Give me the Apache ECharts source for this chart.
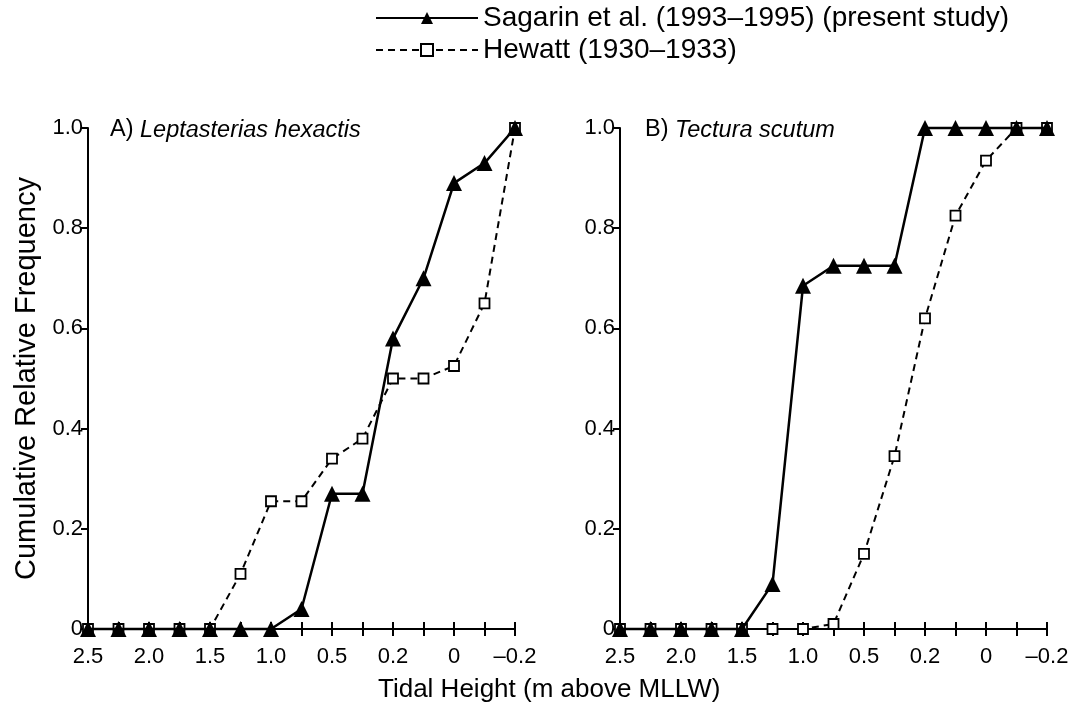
<!DOCTYPE html>
<html lang="en">
<head>
  <meta charset="UTF-8">
  <title>Cumulative Relative Frequency vs Tidal Height</title>
  <script src="https://cdn.jsdelivr.net/npm/echarts@6.0.0/dist/echarts.min.js"></script>
  <style>
    html, body { margin: 0; padding: 0; background: #fff; }
    #chart { width: 1073px; height: 711px; }
  </style>
</head>
<body>
  <div id="chart"></div>
  <script>
    // tidal height categories (every second one is labelled)
    var tideLabels = ['2.5', '2.25', '2.0', '1.75', '1.5', '1.25', '1.0', '0.75', '0.5', '0.35', '0.2', '0.1', '0', '–0.1', '–0.2'];

    // A) Leptasterias hexactis
    var leptSagarin = [0, 0, 0, 0, 0, 0, 0, 0.04, 0.27, 0.27, 0.58, 0.70, 0.89, 0.93, 1.0];
    var leptHewatt  = [0, 0, 0, 0, 0, 0.11, 0.255, 0.255, 0.34, 0.38, 0.50, 0.50, 0.525, 0.65, 1.0];

    // B) Tectura scutum
    var tectSagarin = [0, 0, 0, 0, 0, 0.09, 0.685, 0.725, 0.725, 0.725, 1.0, 1.0, 1.0, 1.0, 1.0];
    var tectHewatt  = [0, 0, 0, 0, 0, 0, 0, 0.01, 0.15, 0.345, 0.62, 0.825, 0.935, 1.0, 1.0];

    var SAGARIN = 'Sagarin et al. (1993–1995) (present study)';
    var HEWATT = 'Hewatt (1930–1933)';
    var FONT = 'Liberation Sans';

    var chart = echarts.init(document.getElementById('chart'));

    function mainX(grid) {
      return {
        type: 'category', gridIndex: grid, position: 'bottom', boundaryGap: false, data: tideLabels,
        axisLine: { lineStyle: { color: '#000', width: 2 } },
        axisTick: { show: true, interval: 0, length: 7, lineStyle: { color: '#000', width: 2 } },
        axisLabel: { interval: 1, margin: 17, fontSize: 22, color: '#000', fontFamily: FONT },
        splitLine: { show: false }
      };
    }
    // second axis on the same spot, only to make the ticks cross the line
    function innerX(grid) {
      return {
        type: 'category', gridIndex: grid, position: 'bottom', boundaryGap: false, data: tideLabels,
        axisLine: { show: false },
        axisTick: { show: true, inside: true, interval: 0, length: 7, lineStyle: { color: '#000', width: 2 } },
        axisLabel: { show: false },
        splitLine: { show: false }
      };
    }
    function valY(grid, name) {
      return {
        type: 'value', gridIndex: grid, min: 0, max: 1, interval: 0.2,
        name: name, nameLocation: 'middle', nameGap: 47,
        nameTextStyle: { fontSize: 29, color: '#000', fontFamily: FONT },
        axisLine: { show: true, lineStyle: { color: '#000', width: 2 } },
        axisTick: { show: true, length: 7, lineStyle: { color: '#000', width: 2 } },
        axisLabel: {
          margin: 5, fontSize: 22, color: '#000', fontFamily: FONT,
          formatter: function (v) { return v === 0 ? '0' : v.toFixed(1); }
        },
        splitLine: { show: false }
      };
    }
    function sagarin(xi, yi, data) {
      return {
        name: SAGARIN, type: 'line', xAxisIndex: xi, yAxisIndex: yi, data: data,
        clip: false, z: 3,
        symbol: 'triangle', symbolSize: 16,
        lineStyle: { color: '#000', width: 2.5 },
        itemStyle: { color: '#000' }
      };
    }
    function hewatt(xi, yi, data) {
      return {
        name: HEWATT, type: 'line', xAxisIndex: xi, yAxisIndex: yi, data: data,
        clip: false, z: 2,
        symbol: 'rect', symbolSize: 10, showAllSymbol: true,
        lineStyle: { color: '#000', width: 2, type: [7, 5] },
        itemStyle: { color: '#fff', borderColor: '#000', borderWidth: 1.8 }
      };
    }

    chart.setOption({
      animation: false,
      backgroundColor: '#fff',
      textStyle: { fontFamily: FONT },
      title: [
        {
          left: 110, top: 118, padding: 0,
          text: 'A) {i|Leptasterias hexactis}',
          textStyle: { fontSize: 23.5, fontWeight: 'normal', color: '#000', rich: { i: { fontSize: 23.5, fontStyle: 'italic', color: '#000' } } }
        },
        {
          left: 645, top: 118, padding: 0,
          text: 'B) {i|Tectura scutum}',
          textStyle: { fontSize: 23.5, fontWeight: 'normal', color: '#000', rich: { i: { fontSize: 23.5, fontStyle: 'italic', color: '#000' } } }
        },
        {
          left: 378, top: 677, padding: 0,
          text: 'Tidal Height (m above MLLW)',
          textStyle: { fontSize: 26, fontWeight: 'normal', color: '#000' }
        }
      ],
      legend: {
        orient: 'vertical', left: 375, top: 4, padding: 0,
        itemWidth: 102, itemHeight: 15, itemGap: 4,
        data: [SAGARIN, HEWATT],
        textStyle: { fontSize: 28, color: '#000' }
      },
      grid: [
        { left: 88, top: 128, width: 427, height: 501 },
        { left: 620, top: 128, width: 427, height: 501 }
      ],
      xAxis: [mainX(0), innerX(0), mainX(1), innerX(1)],
      yAxis: [valY(0, 'Cumulative Relative Frequency'), valY(1, '')],
      series: [
        hewatt(0, 0, leptHewatt),
        sagarin(0, 0, leptSagarin),
        hewatt(2, 1, tectHewatt),
        sagarin(2, 1, tectSagarin)
      ]
    });
  </script>
</body>
</html>
